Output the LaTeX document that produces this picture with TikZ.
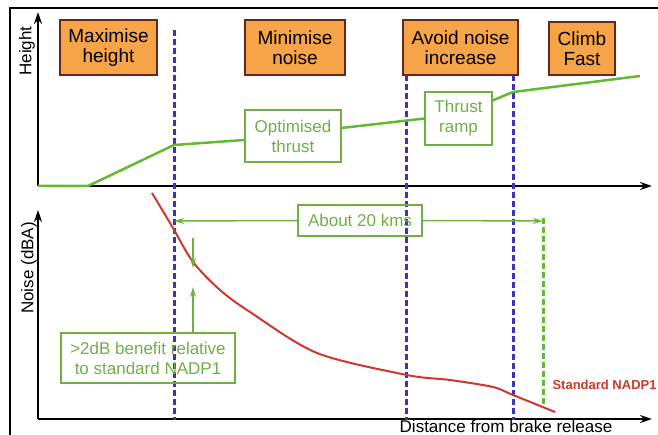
\documentclass[tikz,border=0pt]{standalone}
\usepackage{fontspec}
\setmainfont{Liberation Sans}
\usepackage{xcolor}
\usetikzlibrary{arrows.meta, positioning}
\definecolor{phaseorange}{RGB}{246,164,72}
\definecolor{phaseedge}{RGB}{100,40,30}
\definecolor{linegreen}{RGB}{100,185,50}
\definecolor{notegreen}{RGB}{110,175,70}
\definecolor{divblue}{RGB}{60,50,190}
\definecolor{noisered}{RGB}{205,55,45}
\tikzstyle{phase} = [rectangle, 
minimum height=55pt, 
text centered, 
align=center, 
draw=phaseedge, 
line width=1.2pt, 
fill=phaseorange, 
font=\fontsize{19}{20}\selectfont]
\tikzstyle{note} = [rectangle, 
text centered, 
align=center, 
draw=notegreen, 
line width=1.2pt, 
text=notegreen, 
font=\fontsize{17}{20}\selectfont]
\tikzstyle{axislabel} = [font=\fontsize{17}{20}\selectfont]
\tikzstyle{axis} = [line width=2pt,-{Stealth[length=12pt,width=8pt]}]
\tikzstyle{divider} = [draw=divblue, line width=3pt, dash pattern=on 6pt off 3pt]
\tikzstyle{profile} = [draw=linegreen, line width=2.5pt]
\tikzstyle{noise} = [draw=noisered, line width=2pt]
\tikzstyle{arrow} = [draw=notegreen, line width=1.5pt,-{Stealth[length=10pt,width=6pt]}]

\begin{document}
\begin{tikzpicture}[x=1pt, y=-1pt]
  \useasboundingbox (0,0) rectangle (658,435);
  \draw [line width=2pt] (10,435) -- (10,8) -- (658,8);

  % phases
  \node (maxh) [phase, minimum width=97pt] at (108.5,47.5) {Maximise\\height};
  \node (minn) [phase, minimum width=100pt] at (295,47.5) {Minimise\\noise};
  \node (avoid) [phase, minimum width=115pt] at (460.5,47.5) {Avoid noise\\increase};
  \node (climb) [phase, minimum width=66pt, minimum height=53pt] at (582,48.5) {Climb\\Fast};

  % axes
  \coordinate (o1) at (38,186);
  \coordinate (o2) at (38,419);
  \draw [axis] (o1) -- (38,12);
  \draw [axis] (o1) -- (652,186);
  \draw [axis] (o2) -- (38,210);
  \draw [axis] (o2) -- (652,419);
  \node (hlabel) [axislabel, rotate=90] at (27,51) {Height};
  \node (nlabel) [axislabel, rotate=90] at (29,268) {Noise (dBA)};
  \node (dlabel) [axislabel, anchor=base, inner sep=0pt] at (506,432) {Distance from brake release};

  % dividers
  \draw [divider] (174,30) -- (174,420);
  \draw [divider] (406,75) -- (406,420);
  \draw [divider] (513,75) -- (513,420);
  \draw [divider, draw=linegreen] (543,218) -- (543,408);

  % notes
  \node (opt) [note, minimum width=96pt, minimum height=52pt] at (293,136) {Optimised\\thrust};
  \node (ramp) [note, minimum width=67pt, minimum height=53pt] at (458.5,118.5) {Thrust\\ramp};
  \node (kms) [note, minimum width=124pt, minimum height=31pt] at (360,220.5) {About 20 kms};
  \node (gain) [note, minimum width=174pt, minimum height=50pt] at (148,358) {>2dB benefit relative\\to standard NADP1};

  % height profile
  \draw [profile] (o1) -- (88,186) -- (174,145) -- ([yshift=-4pt]opt.west);
  \draw [profile] ([yshift=8pt]opt.east) -- (ramp.west);
  \draw [profile] ([yshift=18pt]ramp.east) -- (513,92) -- (640,76);

  % noise profile
  \draw [noise] plot [smooth, tension=0.5] coordinates {(152,193) (173,228) (193,262) (220,290) (250,312) (317,353) (407,375) (450,380) (493,387) (513,395) (555,412)};
  \node (nadp) [anchor=base west, text=noisered, font=\bfseries\fontsize{13}{13}\selectfont] at (549,389) {Standard NADP1};

  % distance and benefit
  \coordinate (kmsl) at (174,221);
  \coordinate (kmsr) at (543,221);
  \draw [arrow] (kms.west) -- (kmsl);
  \draw [arrow] (kms.east) -- (kmsr);
  \coordinate (gtop) at (193,238);
  \coordinate (gdown) at (193,268);
  \coordinate (gup) at (193,287);
  \draw [arrow] (gtop) -- (gdown);
  \draw [arrow] (gain.north -| gup) -- (gup);

\end{tikzpicture}
\end{document}
